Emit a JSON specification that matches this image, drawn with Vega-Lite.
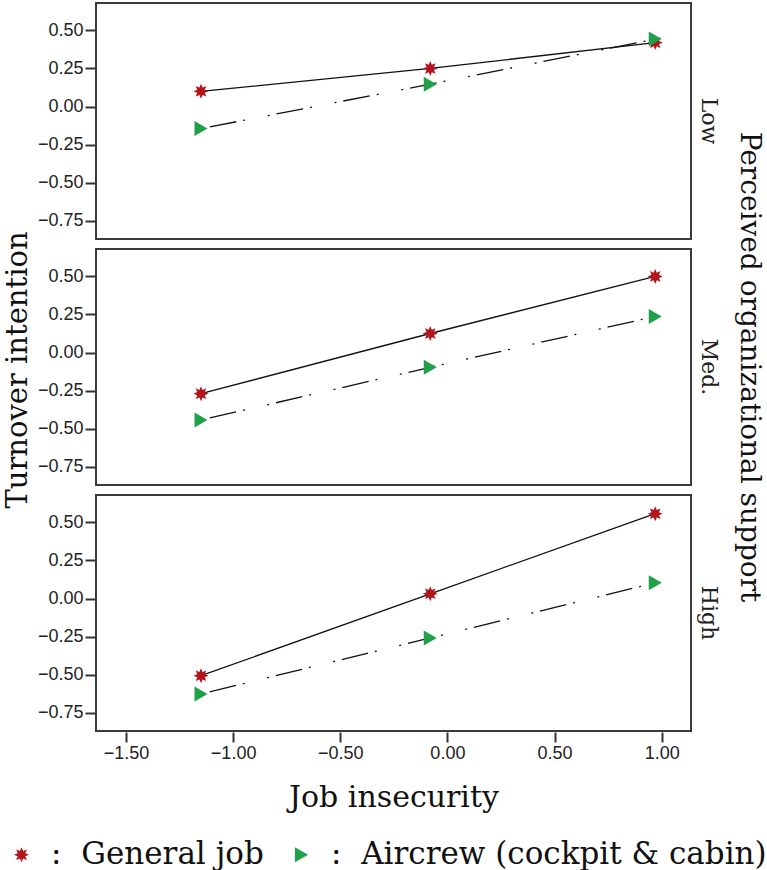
{
  "$schema": "https://vega.github.io/schema/vega-lite/v6.json",
  "padding": {"left": 3, "top": 2, "right": 2, "bottom": 0},
  "title": {"text": "Turnover intention", "orient": "left", "anchor": "middle", "frame": "bounds", "font": "DejaVu Serif", "fontSize": 29, "fontWeight": "normal", "color": "#111", "offset": -27, "dx": 66},
  "data": {"values": [
    {"pos": "Low", "group": "General job", "x": -1.15, "y": 0.10},
    {"pos": "Low", "group": "General job", "x": -0.08, "y": 0.25},
    {"pos": "Low", "group": "General job", "x": 0.97, "y": 0.42},
    {"pos": "Low", "group": "Aircrew (cockpit & cabin)", "x": -1.15, "y": -0.145},
    {"pos": "Low", "group": "Aircrew (cockpit & cabin)", "x": -0.08, "y": 0.147},
    {"pos": "Low", "group": "Aircrew (cockpit & cabin)", "x": 0.97, "y": 0.443},
    {"pos": "Med.", "group": "General job", "x": -1.15, "y": -0.27},
    {"pos": "Med.", "group": "General job", "x": -0.08, "y": 0.125},
    {"pos": "Med.", "group": "General job", "x": 0.97, "y": 0.50},
    {"pos": "Med.", "group": "Aircrew (cockpit & cabin)", "x": -1.15, "y": -0.443},
    {"pos": "Med.", "group": "Aircrew (cockpit & cabin)", "x": -0.08, "y": -0.097},
    {"pos": "Med.", "group": "Aircrew (cockpit & cabin)", "x": 0.97, "y": 0.237},
    {"pos": "High", "group": "General job", "x": -1.15, "y": -0.507},
    {"pos": "High", "group": "General job", "x": -0.08, "y": 0.031},
    {"pos": "High", "group": "General job", "x": 0.97, "y": 0.557},
    {"pos": "High", "group": "Aircrew (cockpit & cabin)", "x": -1.15, "y": -0.627},
    {"pos": "High", "group": "Aircrew (cockpit & cabin)", "x": -0.08, "y": -0.259},
    {"pos": "High", "group": "Aircrew (cockpit & cabin)", "x": 0.97, "y": 0.103}
  ]},
  "facet": {
    "row": {
      "field": "pos", "type": "nominal", "sort": ["Low", "Med.", "High"],
      "title": "Perceived organizational support",
      "header": {
        "labelOrient": "right", "labelAngle": 90, "labelFont": "DejaVu Serif", "labelFontSize": 22, "labelPadding": 5, "labelColor": "#222",
        "titleOrient": "right", "titleAngle": 90, "titleFont": "DejaVu Serif", "titleFontSize": 28, "titleFontWeight": "normal", "titlePadding": 5, "titleColor": "#111"
      }
    }
  },
  "spacing": 8,
  "spec": {
    "width": 595,
    "height": 236,
    "encoding": {
      "x": {"field": "x", "type": "quantitative", "title": "Job insecurity",
        "scale": {"domain": [-1.64, 1.137], "nice": false, "zero": false},
        "axis": {"values": [-1.5, -1, -0.5, 0, 0.5, 1], "format": ".2f"}},
      "y": {"field": "y", "type": "quantitative", "title": null,
        "scale": {"domain": [-0.87, 0.68], "nice": false, "zero": false},
        "axis": {"values": [-0.75, -0.5, -0.25, 0, 0.25, 0.5], "format": ".2f"}}
    },
    "layer": [
      {
        "transform": [{"filter": "datum.group === 'General job'"}],
        "mark": {"type": "line", "color": "#111", "strokeWidth": 1.3},
        "encoding": {}
      },
      {
        "transform": [{"filter": "datum.group !== 'General job'"}],
        "mark": {"type": "line", "color": "#111", "strokeWidth": 1.3, "strokeDash": [2, 7, 27, 7, 2, 23]},
        "encoding": {}
      },
      {
        "mark": {"type": "point", "filled": true, "opacity": 1, "size": 225},
        "encoding": {
          "shape": {"field": "group", "type": "nominal", "sort": ["General job", "Aircrew (cockpit & cabin)"],
            "scale": {"domain": ["General job", "Aircrew (cockpit & cabin)"], "range": ["M1,0L0.5,0.207L0.707,0.707L0.207,0.5L0,1L-0.207,0.5L-0.707,0.707L-0.5,0.207L-1,0L-0.5,-0.207L-0.707,-0.707L-0.207,-0.5L0,-1L0.207,-0.5L0.707,-0.707L0.5,-0.207Z", "triangle-right"]},
            "legend": {"title": null, "labelExpr": "':\u00a0\u00a0' + datum.label", "orient": "none", "legendX": -90, "legendY": 836}},
          "color": {"field": "group", "type": "nominal", "sort": ["General job", "Aircrew (cockpit & cabin)"],
            "scale": {"domain": ["General job", "Aircrew (cockpit & cabin)"], "range": ["#b3151c", "#20a048"]},
            "legend": {"title": null, "labelExpr": "':\u00a0\u00a0' + datum.label", "orient": "none", "legendX": -90, "legendY": 836}}
        }
      }
    ]
  },
  "config": {
    "view": {"stroke": "#3a3a3a", "strokeWidth": 2},
    "axis": {
      "grid": false, "domain": false,
      "tickColor": "#333", "tickSize": 10, "tickWidth": 2,
      "labelFont": "Liberation Sans", "labelFontSize": 18, "labelColor": "#222", "labelPadding": 2,
      "titleFont": "DejaVu Serif", "titleFontSize": 30, "titleFontWeight": "normal", "titleColor": "#111"
    },
    "axisX": {"titlePadding": 20},
    "legend": {
      "direction": "horizontal",
      "labelFont": "DejaVu Serif", "labelFontSize": 31, "labelColor": "#111", "labelLimit": 0,
      "labelOffset": 14,
      "symbolSize": 230, "columnPadding": 22, "padding": 0
    }
  }
}
